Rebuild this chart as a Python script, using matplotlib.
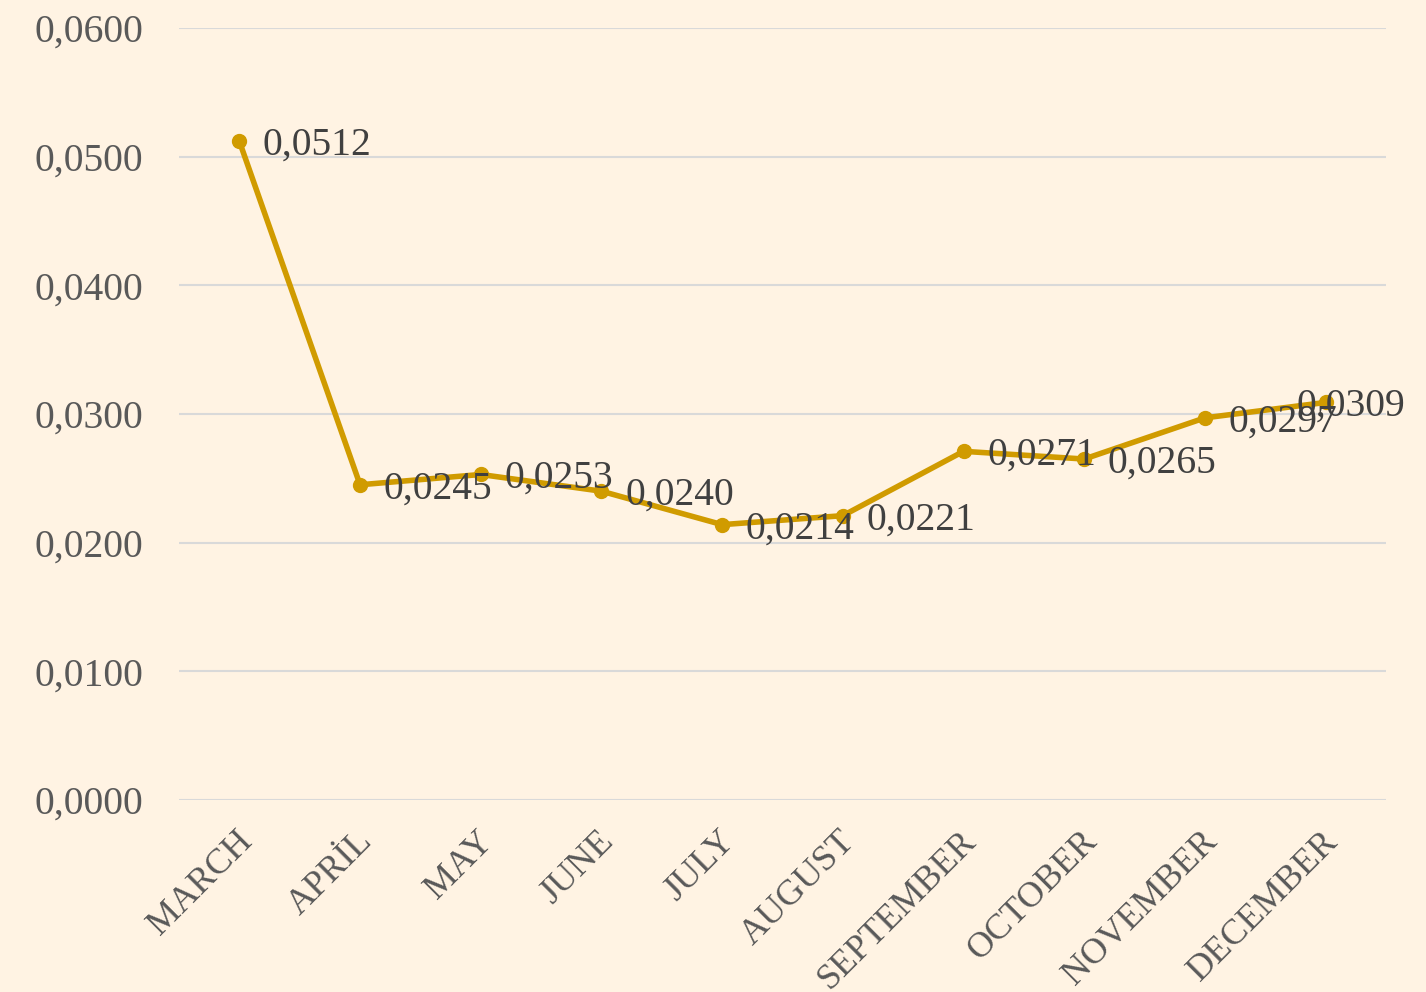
import matplotlib
matplotlib.use("Agg")
import matplotlib.pyplot as plt
from matplotlib.ticker import FuncFormatter
from matplotlib.transforms import ScaledTranslation

months = ["MARCH", "APRİL", "MAY", "JUNE", "JULY", "AUGUST",
          "SEPTEMBER", "OCTOBER", "NOVEMBER", "DECEMBER"]
values = [0.0512, 0.0245, 0.0253, 0.0240, 0.0214, 0.0221,
          0.0271, 0.0265, 0.0297, 0.0309]
yticks = [0.0, 0.01, 0.02, 0.03, 0.04, 0.05, 0.06]

BG = "#FFF3E3"
LINE = "#D09B00"
FONT = ["Liberation Serif", "DejaVu Serif"]

fig = plt.figure(figsize=(14.26, 9.92), dpi=100, facecolor=BG)
ax = fig.add_axes([179/1426, 1-800/992, (1386-179)/1426, (800-28)/992])
ax.set_facecolor(BG)

x = list(range(len(months)))
ax.plot(x, values, color=LINE, linewidth=4.0, marker="o", markersize=10, zorder=3)

def fmt(v):
    return f"{v:.4f}".replace(".", ",")

for i, v in enumerate(values):
    dx = 17 if i < len(values) - 1 else -21
    ax.annotate(fmt(v), (i, v), xytext=(dx, -3), textcoords="offset points",
                ha="left", va="center", fontsize=28.5, color="#404040",
                family=FONT, zorder=4)

ax.set_xlim(-0.5, len(months) - 0.5)
ax.set_ylim(0, 0.06)
ax.set_yticks(yticks)
ax.yaxis.set_major_formatter(FuncFormatter(lambda v, p: fmt(v)))
ax.set_xticks(x)
ax.set_xticklabels(months, rotation=45, ha="right", rotation_mode="anchor",
                   fontsize=26, color="#595959", family=FONT)
for lab in ax.get_yticklabels():
    lab.set_fontsize(28.5)
    lab.set_color("#595959")
    lab.set_family(FONT)

ax.grid(axis="y", color="#D9D9D9", linewidth=1.5)
ax.set_axisbelow(True)
for s in ax.spines.values():
    s.set_visible(False)
ax.tick_params(axis="both", length=0)
ax.tick_params(axis="y", pad=26)
ax.tick_params(axis="x", pad=18)
shift = ScaledTranslation(-4/100, 0, fig.dpi_scale_trans)
for lab in ax.get_xticklabels():
    lab.set_transform(lab.get_transform() + shift)

fig.savefig("out.png", dpi=100, facecolor=BG)
